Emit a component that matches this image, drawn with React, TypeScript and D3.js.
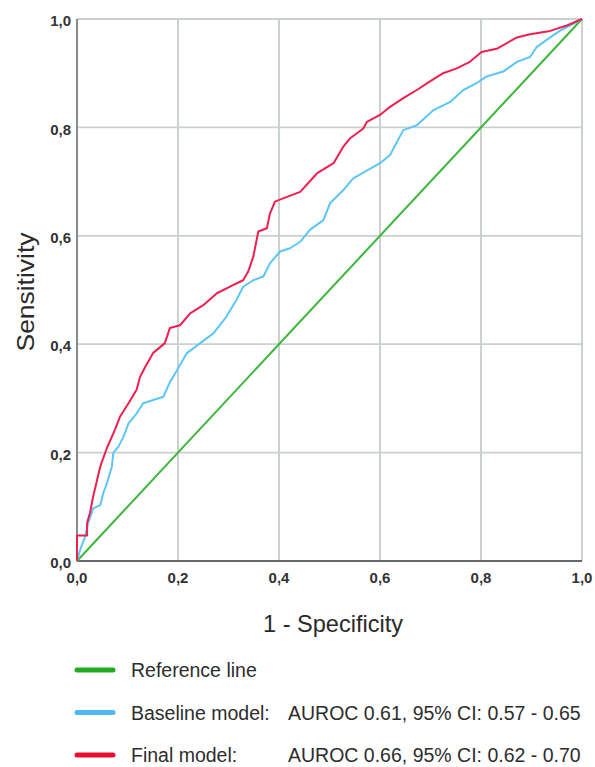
import React from "react";
import * as d3 from "d3";

const ticks = [0, 0.2, 0.4, 0.6, 0.8, 1.0];

const referenceLine: [number, number][] = [[0, 0], [1, 1]];

const baselineModel: [number, number][] = [
  [0, 0], [0.006, 0.02], [0.016, 0.045], [0.022, 0.07], [0.032, 0.097], [0.046, 0.103],
  [0.052, 0.125], [0.059, 0.143], [0.069, 0.174], [0.072, 0.2], [0.082, 0.211], [0.092, 0.229],
  [0.102, 0.254], [0.118, 0.272], [0.131, 0.291], [0.151, 0.297], [0.171, 0.303], [0.184, 0.33],
  [0.197, 0.35], [0.217, 0.383], [0.244, 0.402], [0.27, 0.42], [0.296, 0.451], [0.316, 0.482],
  [0.329, 0.506], [0.349, 0.518], [0.369, 0.525], [0.382, 0.549], [0.402, 0.571], [0.422, 0.577],
  [0.442, 0.589], [0.461, 0.611], [0.488, 0.629], [0.501, 0.66], [0.527, 0.684], [0.547, 0.706],
  [0.6, 0.734], [0.62, 0.749], [0.646, 0.795], [0.673, 0.804], [0.706, 0.832], [0.739, 0.847],
  [0.765, 0.869], [0.792, 0.882], [0.811, 0.894], [0.844, 0.903], [0.871, 0.921], [0.897, 0.93],
  [0.91, 0.948], [0.937, 0.966], [0.956, 0.978], [0.976, 0.988], [1, 1],
];

const finalModel: [number, number][] = [
  [0, 0], [0, 0.047], [0.02, 0.047], [0.02, 0.07], [0.026, 0.09], [0.032, 0.119], [0.046, 0.174],
  [0.059, 0.208], [0.075, 0.242], [0.085, 0.266], [0.102, 0.291], [0.118, 0.316], [0.125, 0.34],
  [0.135, 0.358], [0.151, 0.384], [0.174, 0.402], [0.184, 0.43], [0.204, 0.435], [0.224, 0.457],
  [0.25, 0.472], [0.277, 0.494], [0.309, 0.509], [0.329, 0.518], [0.339, 0.534], [0.349, 0.561],
  [0.359, 0.608], [0.376, 0.614], [0.382, 0.641], [0.392, 0.663], [0.408, 0.669], [0.442, 0.681],
  [0.475, 0.715], [0.508, 0.734], [0.527, 0.764], [0.541, 0.78], [0.567, 0.798], [0.574, 0.81],
  [0.6, 0.823], [0.62, 0.838], [0.646, 0.854], [0.673, 0.869], [0.699, 0.885], [0.725, 0.9],
  [0.752, 0.909], [0.778, 0.921], [0.801, 0.939], [0.831, 0.945], [0.871, 0.966], [0.897, 0.972],
  [0.937, 0.978], [0.97, 0.988], [1, 1],
];

const legendNames = ["Reference line", "Baseline model:", "Final model:"];
const legendStats = ["", "AUROC 0.61, 95% CI: 0.57 - 0.65", "AUROC 0.66, 95% CI: 0.62 - 0.70"];

const xTitle = "1 - Specificity";
const yTitle = "Sensitivity";

const COLORS = { ref: "#3cb63a", base: "#5cc6f6", final: "#ef1f52" };
const LEGEND_COLORS = ["#22aa22", "#4db8f5", "#e8102e"];

const FONT = "'Liberation Sans', Arial, Helvetica, sans-serif";

export default function App() {
  const W = 595;
  const H = 767;
  const x = d3.scaleLinear().domain([0, 1]).range([77, 582]);
  const y = d3.scaleLinear().domain([0, 1]).range([561, 19]);
  const line = d3
    .line<[number, number]>()
    .x((d) => x(d[0]))
    .y((d) => y(d[1]))
    .curve(d3.curveLinear);
  const fmt = (v: number) => v.toFixed(1).replace(".", ",");

  const series = [
    { data: referenceLine, color: COLORS.ref },
    { data: baselineModel, color: COLORS.base },
    { data: finalModel, color: COLORS.final },
  ];

  return (
    <svg
      width={W}
      height={H}
      style={{ position: "absolute", left: 0, top: 0, background: "#fff" }}
      fontFamily={FONT}
    >
      <rect x={0} y={0} width={W} height={H} fill="#fff" />
      {/* grid */}
      {ticks.filter((t) => t > 0).map((t) => (
        <line key={"gx" + t} x1={x(t)} x2={x(t)} y1={y(0)} y2={y(1)} stroke="#c6cdcb" strokeWidth={1.8} />
      ))}
      {ticks.filter((t) => t > 0).map((t) => (
        <line key={"gy" + t} x1={x(0)} x2={x(1)} y1={y(t)} y2={y(t)} stroke="#c9d0ce" strokeWidth={1.8} />
      ))}
      {/* axes */}
      <line x1={x(0)} x2={x(0)} y1={y(1)} y2={y(0)} stroke="#858c8b" strokeWidth={2} />
      <line x1={x(0)} x2={x(1)} y1={y(0)} y2={y(0)} stroke="#636a69" strokeWidth={2} />
      {/* curves */}
      {series.map((s, i) => (
        <path key={i} d={line(s.data) || ""} fill="none" stroke={s.color} strokeWidth={2} strokeLinejoin="round" />
      ))}
      {/* y tick labels */}
      {ticks.map((t) => (
        <text key={"yl" + t} x={71} y={y(t) + 2} dy="0.35em" textAnchor="end" fontSize={15} fontWeight={700} fill="#333">
          {fmt(t)}
        </text>
      ))}
      {/* x tick labels */}
      {ticks.map((t) => (
        <text key={"xl" + t} x={x(t)} y={583} textAnchor="middle" fontSize={15} fontWeight={700} fill="#333">
          {fmt(t)}
        </text>
      ))}
      {/* axis titles */}
      <text x={333} y={632} textAnchor="middle" fontSize={24} fill="#2a2a2a" textLength={140} lengthAdjust="spacingAndGlyphs">
        {xTitle}
      </text>
      <text
        transform={`translate(34, 292) rotate(-90)`}
        textAnchor="middle"
        fontSize={24}
        fill="#2a2a2a"
        textLength={119}
        lengthAdjust="spacingAndGlyphs"
      >
        {yTitle}
      </text>
      {/* legend */}
      {legendNames.map((name, i) => {
        const cy = 670 + i * 42.5;
        return (
          <g key={"lg" + i}>
            <line x1={77} x2={113} y1={cy} y2={cy} stroke={LEGEND_COLORS[i]} strokeWidth={5} strokeLinecap="round" />
            <text x={131} y={cy + 7} fontSize={19.5} fill="#2d2d2d">
              {name}
            </text>
            {legendStats[i] && (
              <text x={288} y={cy + 7} fontSize={19.5} fill="#2d2d2d">
                {legendStats[i]}
              </text>
            )}
          </g>
        );
      })}
    </svg>
  );
}
